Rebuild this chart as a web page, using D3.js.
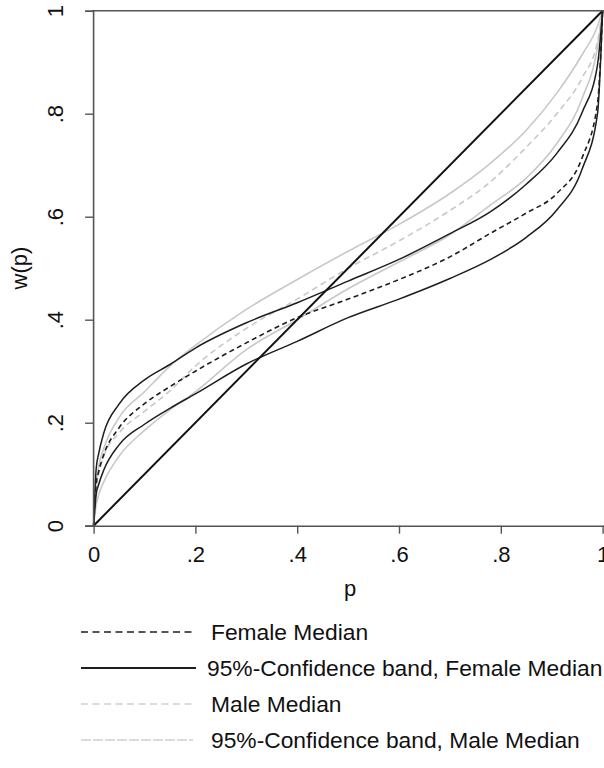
<!DOCTYPE html>
<html>
<head>
<meta charset="utf-8">
<script src="https://cdn.jsdelivr.net/npm/d3@7"></script>
<style>
  body { margin: 0; background: #fff; }
  text { font-family: "Liberation Sans", Arial, Helvetica, sans-serif; fill: #111; }
</style>
</head>
<body>
<div id="chart"></div>
<script>
// probability grid and weighting values
const p = [0, .005, .01, .02, .05, .1, .15, .2, .3, .4, .5, .6, .7, .78, .85, .91, .96, .99, 1];
const femaleMedian = [0, .08, .105, .138, .19, .237, .27, .30, .355, .404, .44, .478, .522, .568, .607, .645, .715, .82, 1];
const femaleUpper  = [0, .11, .14, .18, .236, .283, .313, .345, .394, .433, .475, .517, .567, .61, .663, .723, .803, .895, 1];
const femaleLower  = [0, .06, .08, .108, .157, .197, .228, .256, .314, .358, .404, .44, .48, .517, .56, .613, .693, .80, 1];
const maleMedian   = [0, .07, .10, .135, .18, .222, .262, .31, .383, .44, .50, .553, .612, .668, .735, .80, .87, .94, 1];
const maleUpper    = [0, .08, .115, .15, .21, .26, .31, .35, .42, .478, .533, .585, .645, .704, .768, .84, .915, .97, 1];
const maleLower    = [0, .04, .06, .085, .135, .185, .225, .26, .342, .40, .46, .512, .565, .623, .675, .742, .83, .93, 1];
const diagonal = [0, 1];

const xTicks = [0, .2, .4, .6, .8, 1];
const yTicks = [0, .2, .4, .6, .8, 1];
const tickFmt = d => d === 0 ? "0" : d === 1 ? "1" : String(d).replace("0.", ".");

const legendLabels = ["Female Median", "95%-Confidence band, Female Median", "Male Median", "95%-Confidence band, Male Median"];

const width = 604, height = 768;
const fontSize = "22px";
const svg = d3.select("#chart").append("svg")
    .attr("width", width)
    .attr("height", height);

const x = d3.scaleLinear().domain([0, 1]).range([93.6, 602.6]);
const y = d3.scaleLinear().domain([0, 1]).range([525.7, 10.7]);

// styles for the series
const black = "#1e1e1e", grey = "#c8c8c8";
const series = [
    { vals: maleUpper,   stroke: grey,  dash: null,  w: 1.6 },
    { vals: maleLower,   stroke: grey,  dash: null,  w: 1.6 },
    { vals: maleMedian,  stroke: grey,  dash: "6,4", w: 1.6 },
    { vals: femaleUpper, stroke: black, dash: null,  w: 1.5 },
    { vals: femaleLower, stroke: black, dash: null,  w: 1.5 },
    { vals: femaleMedian, stroke: black, dash: "5,3.5", w: 1.6 }
];

const line = d3.line()
    .x(d => x(d[0]))
    .y(d => y(d[1]))
    .curve(d3.curveMonotoneX);

series.forEach(s => {
    svg.append("path")
        .datum(p.map((v, i) => [v, s.vals[i]]))
        .attr("fill", "none")
        .attr("stroke", s.stroke)
        .attr("stroke-width", s.w)
        .attr("stroke-dasharray", s.dash)
        .attr("d", line);
});

// 45 degree line
svg.append("path")
    .datum(diagonal.map(v => [v, v]))
    .attr("fill", "none")
    .attr("stroke", "#111")
    .attr("stroke-width", 2)
    .attr("d", d3.line().x(d => x(d[0])).y(d => y(d[1])));

// axes
const axisColor = "#555";
const xAxis = svg.append("g")
    .attr("transform", `translate(0,${y(0)})`)
    .call(d3.axisBottom(x).tickValues(xTicks).tickFormat(tickFmt).tickSize(8).tickPadding(8));
const yAxis = svg.append("g")
    .attr("transform", `translate(${x(0) - 0.5},0)`)
    .call(d3.axisLeft(y).tickValues(yTicks).tickFormat(tickFmt).tickSize(8).tickPadding(8));

[xAxis, yAxis].forEach(g => {
    g.select(".domain").attr("stroke", axisColor).attr("stroke-width", 1.6);
    g.selectAll(".tick line").attr("stroke", axisColor).attr("stroke-width", 1.4);
    g.selectAll(".tick text").attr("fill", "#111").style("font-size", fontSize)
        .style("font-family", '"Liberation Sans", Arial, sans-serif');
});
xAxis.select(".domain").attr("d", `M${x(0) - 8},0.5H${width}`);
xAxis.selectAll(".tick text").attr("dy", "0.71em").attr("y", 21);

// rotated y tick labels
yAxis.selectAll(".tick text")
    .attr("x", null).attr("dy", null)
    .attr("text-anchor", "middle")
    .attr("transform", "translate(-30,0) rotate(-90)");

// top frame line
svg.append("line")
    .attr("x1", x(0) - 1).attr("x2", width)
    .attr("y1", y(1)).attr("y2", y(1))
    .attr("stroke", axisColor).attr("stroke-width", 1.6);

// axis titles
svg.append("text")
    .attr("x", 350).attr("y", 596)
    .attr("text-anchor", "middle")
    .style("font-size", fontSize)
    .text("p");
svg.append("text")
    .attr("transform", "translate(27,268) rotate(-90)")
    .attr("text-anchor", "middle")
    .style("font-size", fontSize)
    .text("w(p)");

// legend
const legendStyles = [
    { stroke: black, dash: "7,4.5", w: 1.6 },
    { stroke: black, dash: null, w: 1.8 },
    { stroke: "#d0d0d0", dash: "7,4.5", w: 1.6 },
    { stroke: "#d0d0d0", dash: "10,2", w: 1.6 }
];
const legend = svg.append("g");
legendLabels.forEach((label, i) => {
    const ly = 632 + i * 36;
    legend.append("line")
        .attr("x1", 81).attr("x2", i === 1 ? 196 : 193)
        .attr("y1", ly).attr("y2", ly)
        .attr("stroke", legendStyles[i].stroke)
        .attr("stroke-width", legendStyles[i].w)
        .attr("stroke-dasharray", legendStyles[i].dash);
    legend.append("text")
        .attr("x", i === 1 ? 207 : 211)
        .attr("y", ly)
        .attr("dy", "0.35em")
        .style("font-size", "22.8px")
        .text(label);
});
</script>
</body>
</html>
